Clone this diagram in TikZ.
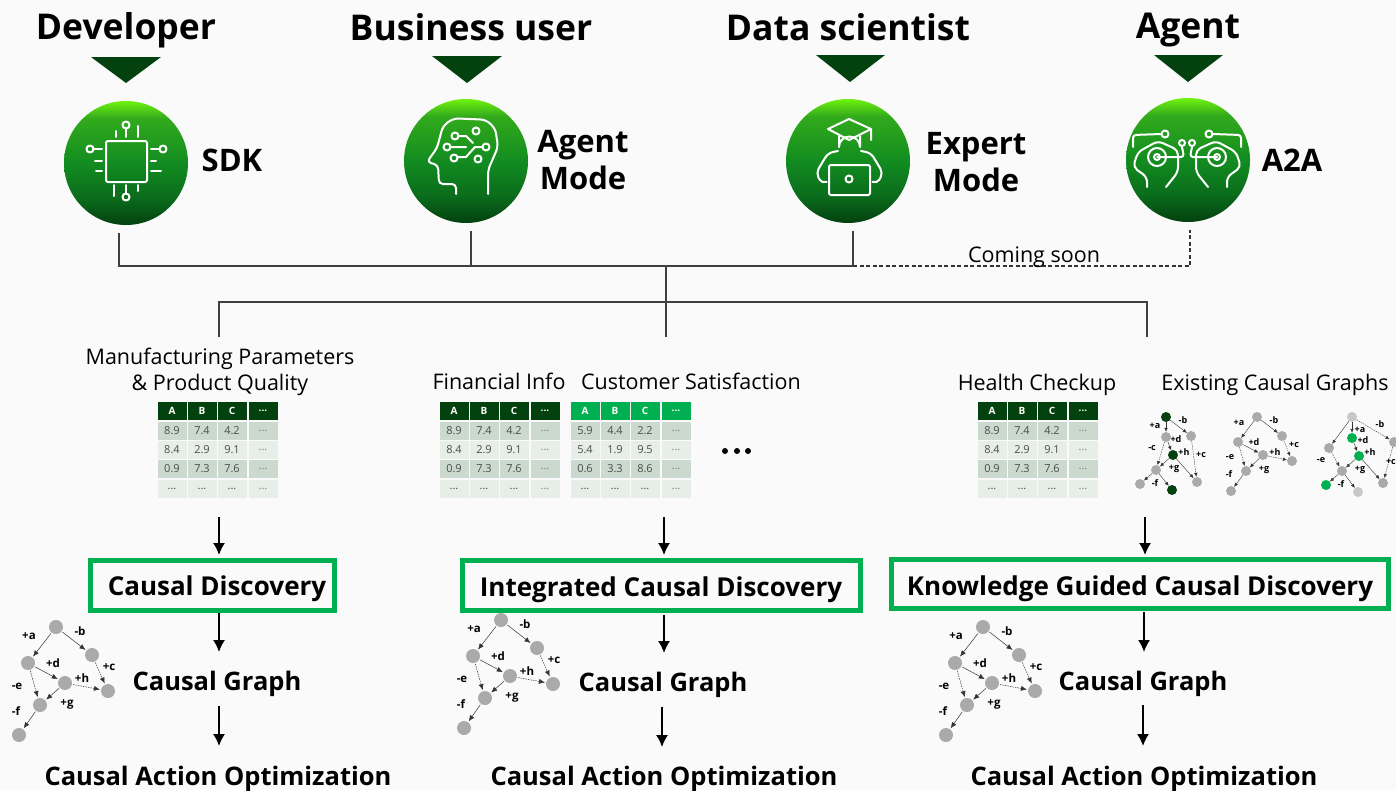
\documentclass[tikz,border=0pt]{standalone}
\usepackage{fontspec}
\setmainfont{Open Sans}
\usetikzlibrary{arrows.meta,shapes.geometric}

\definecolor{pagegray}{RGB}{250,250,250}
\definecolor{darkgreen}{RGB}{3,65,15}
\definecolor{boxgreen}{RGB}{0,176,80}
\definecolor{topgreen}{RGB}{112,242,15}
\definecolor{upgreen}{RGB}{50,170,28}
\definecolor{midgreen}{RGB}{18,140,32}
\definecolor{lowgreen}{RGB}{10,108,28}
\definecolor{rowdark}{RGB}{204,217,206}
\definecolor{rowlight}{RGB}{231,238,232}
\definecolor{nodegray}{RGB}{170,170,170}
\pgfdeclareverticalshading{circlegreen}{100bp}{color(0bp)=(darkgreen); color(25bp)=(darkgreen); color(36bp)=(lowgreen); color(50bp)=(midgreen); color(68bp)=(upgreen); color(75bp)=(topgreen); color(100bp)=(topgreen)}

\newcommand{\more}{...}
\newcommand{\datatable}[4]{%
        \foreach \v/\cx [count=\k] in {A/15,B/45,C/75,\more/106}
                \node[headcell, fill=#3] (#1h\k) at (#2+\cx,410.5) {\v};
        \foreach \va/\vb/\vc/\y/\f [count=\r] in {#4}{
                \node[datacell, fill=\f] (#1r\r a) at (#2+15,\y) {\va};
                \node[datacell, fill=\f] (#1r\r b) at (#2+45,\y) {\vb};
                \node[datacell, fill=\f] (#1r\r c) at (#2+75,\y) {\vc};
                \node[datacell, fill=\f, text=gray] (#1r\r d) at (#2+106,\y) {\more};
        }
}

\newcommand{\causalgraph}[3]{%
        \begin{scope}[shift={(#2,#3)}]
        \node[gnode] (#1n1) at (0,0) {};
        \node[gnode] (#1n2) at (36,28) {};
        \node[gnode] (#1n3) at (-28,36) {};
        \node[gnode] (#1n4) at (9,56) {};
        \node[gnode] (#1n5) at (52,64) {};
        \node[gnode] (#1n6) at (-16,78) {};
        \node[gnode] (#1n7) at (-37,108) {};
        \draw (#1n1) edge[gedge] (#1n3);
        \draw (#1n1) edge[gedge] (#1n2);
        \draw (#1n2) edge[gedge, gdash] (#1n5);
        \draw (#1n3) edge[gedge] (#1n4);
        \draw (#1n3) edge[gedge, gdash] (#1n6);
        \draw (#1n4) edge[gedge, gdash] (#1n5);
        \draw (#1n4) edge[gedge] (#1n6);
        \draw (#1n6) edge[gedge] (#1n7);
        \foreach \n/\t/\x/\y in {a/+a/-27/9,b/-b/24/4,c/+c/53/40,d/+d/-3/36,e/-e/-39/59,h/+h/26/51,g/+g/11/77,f/-f/-40/84}
                \node[glabel] (#1l\n) at (\x,\y) {\t};
        \end{scope}
}

\begin{document}
\begin{tikzpicture}[x=1pt, y=-1pt]%
        \tikzstyle{role}=[font=\fontsize{35.5}{40}\selectfont\bfseries];%
        \tikzstyle{tool}=[font=\fontsize{31}{37.5}\selectfont\bfseries, align=center];%
        \tikzstyle{stepname}=[font=\fontsize{26}{30}\selectfont\bfseries];%
        \tikzstyle{resultname}=[font=\fontsize{25.5}{30}\selectfont\bfseries];%
        \tikzstyle{source}=[font=\fontsize{21.5}{26}\selectfont, align=center];%
        \tikzstyle{badge}=[circle, minimum size=124pt, inner sep=0pt, shade, shading=circlegreen];%
        \tikzstyle{marker}=[fill=darkgreen];%
        \tikzstyle{icon}=[draw=white, line width=2pt, line cap=round, line join=round];%
        \tikzstyle{wire}=[line width=1.2pt, draw=black!75];%
        \tikzstyle{soon}=[line width=1.1pt, draw=black!80, dash pattern=on 4pt off 2.5pt];%
        \tikzstyle{flow}=[line width=1.5pt, -{Latex[length=12pt, width=12pt]}];%
        \tikzstyle{stepbox}=[draw=boxgreen, line width=5pt, inner sep=0pt];%
        \tikzstyle{headcell}=[minimum width=29pt, minimum height=18pt, inner sep=0pt, text=white, font=\fontsize{10}{12}\selectfont\bfseries];%
        \tikzstyle{datacell}=[minimum width=29pt, minimum height=18pt, inner sep=0pt, text=black!70, font=\fontsize{11}{13}\selectfont];%
        \tikzstyle{gnode}=[circle, fill=nodegray, minimum size=14pt, inner sep=0pt];%
        \tikzstyle{gedge}=[-{Latex[length=6pt, width=5pt]}, line width=0.5pt, draw=black!80, shorten >=1pt, shorten <=1pt];%
        \tikzstyle{gdash}=[dash pattern=on 1.5pt off 1pt];%
        \tikzstyle{glabel}=[font=\fontsize{11.5}{13}\selectfont\bfseries, inner sep=0pt];%
        \tikzstyle{snode}=[circle, fill=nodegray, minimum size=10pt, inner sep=0pt];%
        \tikzstyle{sdark}=[circle, fill=darkgreen, minimum size=10pt, inner sep=0pt];%
        \tikzstyle{sgreen}=[circle, fill=boxgreen, minimum size=10pt, inner sep=0pt];%
        \tikzstyle{slight}=[circle, fill=nodegray!65, minimum size=10pt, inner sep=0pt];%
        \tikzstyle{sedge}=[-{Latex[length=4pt, width=3.5pt]}, line width=0.4pt, draw=black!80];%
        \tikzstyle{slabel}=[font=\fontsize{9}{10}\selectfont\bfseries, inner sep=0pt];%

        \clip (0,0) rectangle (1396,790);
        \fill[pagegray] (0,0) rectangle (1396,790);

        \node[role] (dev) at (126,30) {Developer};
        \node[role] (biz) at (471,27) {Business user};
        \node[role] (sci) at (848,27) {Data scientist};
        \node[role] (agt) at (1188,30) {Agent};

        \fill[marker] (91,57) -- (161,57) -- (126,83) -- cycle;
        \fill[marker] (432,56) -- (502,56) -- (467,83) -- cycle;
        \fill[marker] (816,55) -- (885,55) -- (850,82) -- cycle;
        \fill[marker] (1154,55) -- (1223,55) -- (1188,82) -- cycle;

        \node[badge] (c1) at (126,163) {};
        \node[badge] (c2) at (466,161) {};
        \node[badge] (c3) at (848,161) {};
        \node[badge] (c4) at (1188,160) {};

        \node[tool] (sdk) at (232,160) {SDK};
        \node[tool] (amode) at (583,160) {Agent\\Mode};
        \node[tool] (emode) at (976,162) {Expert\\Mode};
        \node[tool] (a2a) at (1292,160) {A2A};

        \draw[icon, rounded corners=2pt] (106,141) rectangle (147,182);
        \draw[icon] (126,129) -- (126,137) (116,131) -- (116,137) (138,126) -- (138,137);
        \draw[icon] (126,185) -- (126,193) (114,185) -- (114,196) (138,185) -- (138,191);
        \draw[icon] (94,149) -- (102,149) (95,161) -- (102,161) (96,171) -- (102,171);
        \draw[icon] (151,149) -- (159,149) (151,161) -- (156,161) (151,171) -- (161,171);
        \draw[icon] (126,125) circle (3.5) (126,197) circle (3.5) (90,149) circle (3.5) (163,149) circle (3.5);

        \draw[icon, rounded corners=5pt] (488,194) -- (488,170) -- (498,147) [rounded corners=14pt] -- (494,120) -- (445,118) [rounded corners=4pt] -- (437,148) -- (427,162) -- (438,165) -- (439,184) -- (456,184) -- (456,194);
        \draw[icon] (476,131) circle (3.5) (455,136) circle (3.5) (447,147) circle (3.5) (486,147) circle (3.5) (454,158) circle (3.5) (478,159) circle (3.5);
        \draw[icon] (458,136) -- (466,136) -- (473,143) (450,147) -- (466,147) (482,147) -- (475,147) -- (466,157) -- (458,157);

        \draw[icon] (849,119) -- (828,129) -- (849,140) -- (871,129) -- cycle (871,129) -- (871,140);
        \draw[icon] (839,136) -- (839,147) arc[start angle=180, end angle=360, radius=10.5] -- (860,136);
        \draw[icon, rounded corners=5pt] (838,151) -- (828,153) -- (816,173) -- (822,184) -- (826,182);
        \draw[icon, rounded corners=5pt] (861,151) -- (871,153) -- (883,173) -- (877,184) -- (873,182);
        \draw[icon, rounded corners=1.5pt] (829,165) rectangle (870,195);
        \draw[icon] (849,179) circle (3.5);

        \foreach \s in {1,-1}{
                \begin{scope}[shift={(1187,0)}, xscale=\s]
                \draw[icon, rounded corners=5pt] (-40,187) -- (-40,177) -- (-54,167) -- (-49,152) -- (-29,141) -- (-9,150) -- (-9,172) -- (-21,187);
                \draw[icon] (-30,157) circle (3);
                \draw[icon] (-30,157) circle (9);
                \draw[icon, rounded corners=3pt] (-30,157) -- (-3,157) -- (-5,147);
                \draw[icon] (-5,143) circle (3);
                \draw[icon, rounded corners=3pt] (-54,147) -- (-54,135) -- (-26,134);
                \draw[icon] (-22,134) circle (3.5);
                \end{scope}
        }

        \coordinate (t1) at (119,233);
        \coordinate (t2) at (471,231);
        \coordinate (t3) at (853,231);
        \coordinate (t4) at (1190,230);
        \coordinate (j1) at (119,266);
        \coordinate (j2) at (471,266);
        \coordinate (j3) at (853,266);
        \coordinate (j4) at (1190,266);
        \coordinate (m) at (666,266);
        \coordinate (mh) at (666,302);
        \coordinate (lh) at (219,302);
        \coordinate (rh) at (1147,302);
        \coordinate (ld) at (219,337);
        \coordinate (md) at (666,337);
        \coordinate (rd) at (1147,337);
        \draw[wire] (t1) -- (j1) -- (j3) -- (t3);
        \draw[wire] (t2) -- (j2);
        \draw[soon] (j3) -- (j4) -- (t4);
        \draw[wire] (m) -- (md);
        \draw[wire] (ld) -- (lh) -- (rh) -- (rd);
        \node[font=\fontsize{21.5}{24}\selectfont, inner sep=0pt] (soontext) at (1034,257) {Coming soon};

        \node[source] (src1) at (220,372) {Manufacturing Parameters\\\& Product Quality};
        \node[source] (src2) at (499,381) {Financial Info};
        \node[source] (src3) at (691,381) {Customer Satisfaction};
        \node[source] (src4) at (1037,385) {Health Checkup};
        \node[source] (src5) at (1275,385) {Existing Causal Graphs};

        \datatable{ta}{157}{darkgreen}{8.9/7.4/4.2/431/rowdark,8.4/2.9/9.1/450/rowlight,0.9/7.3/7.6/469/rowdark,\more/\more/\more/489/rowlight}
        \datatable{tb}{439}{darkgreen}{8.9/7.4/4.2/431/rowdark,8.4/2.9/9.1/450/rowlight,0.9/7.3/7.6/469/rowdark,\more/\more/\more/489/rowlight}
        \datatable{tc}{570}{boxgreen}{5.9/4.4/2.2/431/rowdark,5.4/1.9/9.5/450/rowlight,0.6/3.3/8.6/469/rowdark,\more/\more/\more/489/rowlight}
        \datatable{td}{977}{darkgreen}{8.9/7.4/4.2/431/rowdark,8.4/2.9/9.1/450/rowlight,0.9/7.3/7.6/469/rowdark,\more/\more/\more/489/rowlight}

        \foreach \x [count=\k] in {725,737,748}
                \node[circle, fill=black, minimum size=6pt, inner sep=0pt] (dot\k) at (\x,451) {};

        \node[sdark] (sa1) at (1166,417) {};
        \node[snode] (sa2) at (1191,436) {};
        \node[snode] (sa3) at (1166,437) {};
        \node[sdark] (sa4) at (1173,455) {};
        \node[snode] (sa5) at (1197,482) {};
        \node[snode] (sa6) at (1156,470) {};
        \node[snode] (sa7) at (1140,484) {};
        \node[sdark] (sa8) at (1172,490) {};
        \draw (sa1) edge[sedge] (sa3);
        \draw (sa1) edge[sedge] (sa2);
        \draw (sa2) edge[sedge, gdash] (sa5);
        \draw (sa3) edge[sedge] (sa4);
        \draw (sa3) edge[sedge, gdash] (sa6);
        \draw (sa4) edge[sedge] (sa6);
        \draw (sa4) edge[sedge] (sa5);
        \draw (sa6) edge[sedge] (sa7);
        \draw (sa6) edge[sedge] (sa8);
        \foreach \n/\t/\x/\y in {a/+a/1155/426,b/-b/1183/420,d/+d/1176/439,c/-c/1152/448,h/+h/1184/452,k/+c/1201/455,g/+g/1174/469,f/-f/1155/483}
                \node[slabel] (sal\n) at (\x,\y) {\t};

        \node[snode] (sb1) at (1257,417) {};
        \node[snode] (sb2) at (1282,436) {};
        \node[snode] (sb3) at (1238,442) {};
        \node[snode] (sb4) at (1263,455) {};
        \node[snode] (sb5) at (1292,461) {};
        \node[snode] (sb6) at (1246,471) {};
        \node[snode] (sb7) at (1231,491) {};
        \draw (sb1) edge[sedge] (sb3);
        \draw (sb1) edge[sedge] (sb2);
        \draw (sb2) edge[sedge, gdash] (sb5);
        \draw (sb3) edge[sedge] (sb4);
        \draw (sb3) edge[sedge, gdash] (sb6);
        \draw (sb4) edge[sedge, gdash] (sb5);
        \draw (sb4) edge[sedge] (sb6);
        \draw (sb6) edge[sedge] (sb7);
        \foreach \n/\t/\x/\y in {a/+a/1239/423,b/-b/1274/420,d/+d/1254/442,c/+c/1294/445,h/+h/1275/452,e/-e/1230/457,g/+g/1264/470,f/-f/1229/474}
                \node[slabel] (sbl\n) at (\x,\y) {\t};

        \node[slight] (sc1) at (1352,417) {};
        \node[snode] (sc2) at (1394,442) {};
        \node[snode] (sc3) at (1329,448) {};
        \node[sgreen] (sc9) at (1352,438) {};
        \node[sgreen] (sc4) at (1359,456) {};
        \node[snode] (sc5) at (1383,483) {};
        \node[snode] (sc6) at (1342,471) {};
        \node[sgreen] (sc7) at (1326,485) {};
        \node[slight] (sc8) at (1358,492) {};
        \draw (sc1) edge[sedge] (sc9);
        \draw (sc1) edge[sedge] (sc3);
        \draw (sc1) edge[sedge, gdash] (sc2);
        \draw (sc9) edge[sedge] (sc4);
        \draw (sc3) edge[sedge, gdash] (sc6);
        \draw (sc4) edge[sedge] (sc6);
        \draw (sc4) edge[sedge] (sc5);
        \draw (sc2) edge[sedge, gdash] (sc5);
        \draw (sc6) edge[sedge] (sc7);
        \draw (sc6) edge[sedge] (sc8);
        \foreach \n/\t/\x/\y in {a/+a/1360/430,b/-b/1380/424,d/+d/1363/440,h/+h/1370/452,e/-e/1321/460,g/+g/1360/470,f/-f/1341/484}
                \node[slabel] (scl\n) at (\x,\y) {\t};
        \node[slabel, anchor=east] (sclc) at (1396,462) {+c};

        \node[stepbox, minimum width=244pt, minimum height=50pt] (cd1) at (212.5,585) {};
        \node[stepbox, minimum width=398pt, minimum height=50pt] (cd2) at (661.5,585.5) {};
        \node[stepbox, minimum width=497pt, minimum height=49pt] (cd3) at (1140,584) {};
        \node[stepname] (cdt1) at (217,589) {Causal Discovery};
        \node[stepname] (cdt2) at (661,590) {Integrated Causal Discovery};
        \node[stepname] (cdt3) at (1140,589) {Knowledge Guided Causal Discovery};

        \node[resultname] (cg1) at (217,684) {Causal Graph};
        \node[resultname] (cg2) at (663,685) {Causal Graph};
        \node[resultname] (cg3) at (1143,684) {Causal Graph};
        \node[resultname] (cao1) at (218,779) {Causal Action Optimization};
        \node[resultname] (cao2) at (664,779) {Causal Action Optimization};
        \node[resultname] (cao3) at (1144,779) {Causal Action Optimization};

        \causalgraph{ga}{56}{627}
        \causalgraph{gb}{501}{620}
        \causalgraph{gc}{983}{627}

        \foreach \n/\x/\u/\w in {a/219/517/555,b/219/613/652,c/219/706/746,d/664/517/555,e/664/615/653,f/662/707/747,g/1145/517/555,h/1144/612/652,i/1143/705/746}{
                \coordinate (s\n) at (\x,\u);
                \coordinate (e\n) at (\x,\w);
                \draw[flow] (s\n) -- (e\n);
        }
\end{tikzpicture}
\end{document}
